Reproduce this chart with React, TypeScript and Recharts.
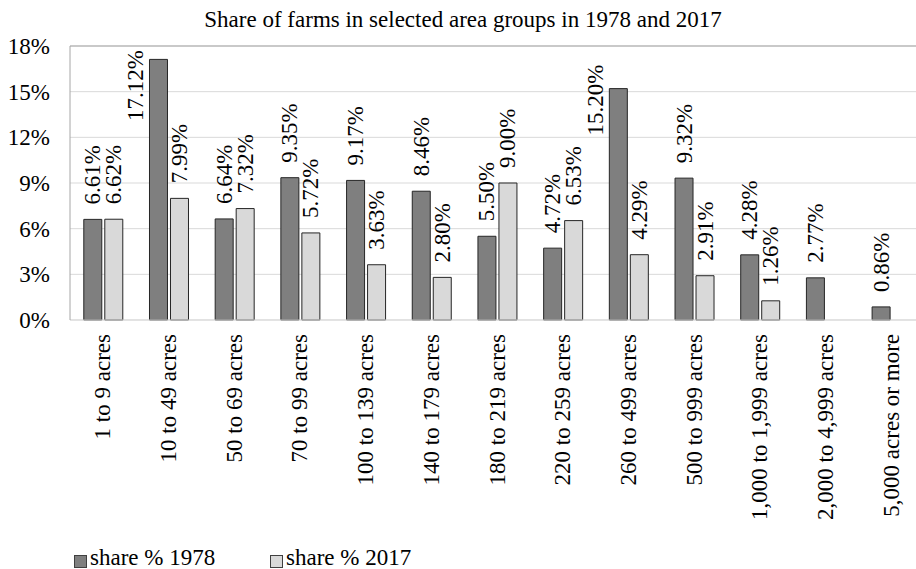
import { BarChart, Bar, XAxis, YAxis, CartesianGrid, Legend, LabelList, ReferenceLine } from 'recharts';

const categories = [
  '1 to 9 acres',
  '10 to 49 acres',
  '50 to 69 acres',
  '70 to 99 acres',
  '100 to 139 acres',
  '140 to 179 acres',
  '180 to 219 acres',
  '220 to 259 acres',
  '260 to 499 acres',
  '500 to 999 acres',
  '1,000 to 1,999 acres',
  '2,000 to 4,999 acres',
  '5,000 acres or more',
];
const share1978 = [6.61, 17.12, 6.64, 9.35, 9.17, 8.46, 5.5, 4.72, 15.2, 9.32, 4.28, 2.77, 0.86];
const share2017 = [6.62, 7.99, 7.32, 5.72, 3.63, 2.8, 9.0, 6.53, 4.29, 2.91, 1.26, null, null];
const yTicks = [0, 3, 6, 9, 12, 15, 18];

const FONT = '"Liberation Serif", "Times New Roman", serif';
const DARK = '#7f7f7f';
const LIGHT = '#d9d9d9';
const FONT_SIZE = 23;
const PLOT_TOP = 46;
const textStyle = { fontFamily: FONT, fontSize: FONT_SIZE };

const data = categories.map((name, i) => ({
  name,
  s1978: share1978[i],
  s2017: share2017[i],
}));

// rotated category label, reads bottom to top, top end just under the axis
const CategoryTick = ({ x, y, payload }: any) => (
  <text
    transform={`translate(${x},${y + 14}) rotate(-90)`}
    textAnchor="end"
    dominantBaseline="central"
    style={textStyle}
    fill="#000"
  >
    {payload.value}
  </text>
);

// value label above each bar; when it would run past the top it goes beside the bar
const ValueLabel = ({ x, y, width, value }: any) => {
  if (value == null) return null;
  const txt = `${Number(value).toFixed(2)}%`;
  const approxLen = (txt.length - 2) * 0.5 * FONT_SIZE + 0.25 * FONT_SIZE + 0.833 * FONT_SIZE;
  const gap = 15;
  if (y - gap - approxLen < PLOT_TOP) {
    const lx = x - 13.5;
    const ly = Math.max(PLOT_TOP + 4, y - 24);
    return (
      <text
        transform={`translate(${lx},${ly}) rotate(-90)`}
        textAnchor="end"
        dominantBaseline="central"
        style={textStyle}
        fill="#000"
      >
        {txt}
      </text>
    );
  }
  return (
    <text
      transform={`translate(${x + width / 2},${y - gap}) rotate(-90)`}
      textAnchor="start"
      dominantBaseline="central"
      style={textStyle}
      fill="#000"
    >
      {txt}
    </text>
  );
};

const LegendBox = () => (
  <div style={{ position: 'relative', width: 916, height: 20, fontFamily: FONT, fontSize: FONT_SIZE }}>
    <div style={{ position: 'absolute', left: 74, top: 10, width: 11, height: 11, background: DARK, border: '1px solid #404040' }} />
    <div style={{ position: 'absolute', left: 90, top: 3, lineHeight: '20px', whiteSpace: 'nowrap' }}>share % 1978</div>
    <div style={{ position: 'absolute', left: 270, top: 10, width: 11, height: 11, background: LIGHT, border: '1px solid #404040' }} />
    <div style={{ position: 'absolute', left: 286, top: 3, lineHeight: '20px', whiteSpace: 'nowrap' }}>share % 2017</div>
  </div>
);

export default function App() {
  return (
    <div style={{ position: 'absolute', left: 0, top: 0, width: 916, height: 569, overflow: 'hidden', background: '#fff' }}>
      <div
        style={{
          position: 'absolute',
          left: 10,
          width: 906,
          top: 8,
          textAlign: 'center',
          fontFamily: FONT,
          fontSize: FONT_SIZE,
          lineHeight: '23px',
          whiteSpace: 'nowrap',
        }}
      >
        Share of farms in selected area groups in 1978 and 2017
      </div>
      <BarChart
        width={924}
        height={569}
        data={data}
        margin={{ top: PLOT_TOP, right: 0, bottom: 0, left: 0 }}
        barCategoryGap="21%"
        barGap={3}
      >
        <CartesianGrid vertical={false} stroke="#d9d9d9" />
        <XAxis
          dataKey="name"
          height={229}
          axisLine={{ stroke: '#d9d9d9' }}
          tickLine={false}
          tickSize={0}
          tickMargin={0}
          interval={0}
          tick={<CategoryTick />}
        />
        <YAxis
          width={70}
          domain={[0, 18]}
          ticks={yTicks}
          tickFormatter={(v: number) => `${v}%`}
          axisLine={{ stroke: '#a6a6a6' }}
          tickLine={false}
          tickSize={0}
          tickMargin={20}
          tick={{ style: textStyle, fill: '#000' }}
        />
        <ReferenceLine y={18} stroke="#a6a6a6" />
        <Legend
          verticalAlign="bottom"
          content={<LegendBox />}
          wrapperStyle={{ left: 0, top: 545, bottom: 'auto', width: 916, height: 20 }}
        />
        <Bar dataKey="s1978" name="share % 1978" fill={DARK} stroke="#262626" strokeWidth={1} isAnimationActive={false}>
          <LabelList dataKey="s1978" content={<ValueLabel />} />
        </Bar>
        <Bar dataKey="s2017" name="share % 2017" fill={LIGHT} stroke="#262626" strokeWidth={1} isAnimationActive={false}>
          <LabelList dataKey="s2017" content={<ValueLabel />} />
        </Bar>
      </BarChart>
    </div>
  );
}
